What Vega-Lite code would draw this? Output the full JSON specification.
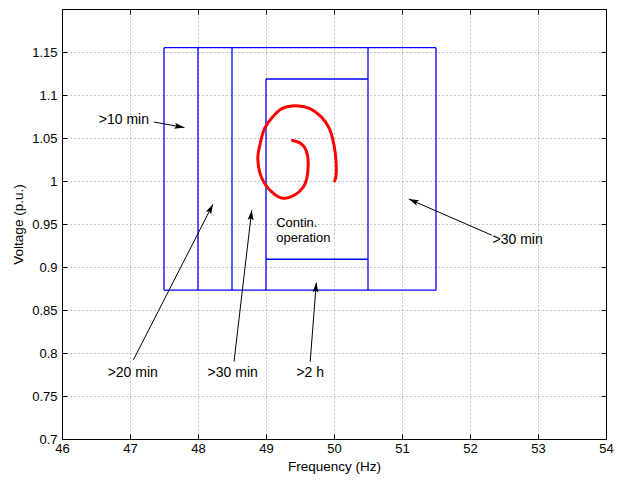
{
  "$schema": "https://vega.github.io/schema/vega-lite/v6.json",
  "width": 544,
  "height": 430,
  "autosize": {"type": "none"},
  "padding": {"left": 62, "top": 9, "right": 11, "bottom": 41},
  "background": "white",
  "config": {
    "font": "Liberation Sans",
    "view": {"stroke": "black", "strokeWidth": 1},
    "axis": {
      "domainColor": "black",
      "tickColor": "black",
      "labelColor": "black",
      "titleColor": "black",
      "labelFont": "Liberation Sans",
      "titleFont": "Liberation Sans",
      "labelFontSize": 13,
      "titleFontSize": 13.5,
      "titleFontWeight": "normal",
      "gridColor": "#888888",
      "gridDash": [1, 3],
      "gridOpacity": 1,
      "gridWidth": 1
    }
  },
  "datasets": {
    "segs": [
      {"x": 47.5, "y": 0.873, "x2": 51.5, "y2": 0.873},
      {"x": 47.5, "y": 1.155, "x2": 51.5, "y2": 1.155},
      {"x": 47.5, "y": 0.873, "x2": 47.5, "y2": 1.155},
      {"x": 51.5, "y": 0.873, "x2": 51.5, "y2": 1.155},
      {"x": 48.0, "y": 0.873, "x2": 48.0, "y2": 1.155},
      {"x": 48.5, "y": 0.873, "x2": 48.5, "y2": 1.155},
      {"x": 50.5, "y": 0.873, "x2": 50.5, "y2": 1.155},
      {"x": 49.0, "y": 0.873, "x2": 49.0, "y2": 1.1186},
      {"x": 49.0, "y": 1.1186, "x2": 50.5, "y2": 1.1186},
      {"x": 49.0, "y": 0.909, "x2": 50.5, "y2": 0.909}
    ],
    "spiral": [
      {"i": 1, "f": 49.39, "v": 1.047},
      {"i": 2, "f": 49.49, "v": 1.0446},
      {"i": 3, "f": 49.56, "v": 1.040},
      {"i": 4, "f": 49.61, "v": 1.030},
      {"i": 5, "f": 49.62, "v": 1.0166},
      {"i": 6, "f": 49.60, "v": 1.003},
      {"i": 7, "f": 49.55, "v": 0.993},
      {"i": 8, "f": 49.42, "v": 0.9837},
      {"i": 9, "f": 49.25, "v": 0.9799},
      {"i": 10, "f": 49.08, "v": 0.9876},
      {"i": 11, "f": 48.93, "v": 1.005},
      {"i": 12, "f": 48.88, "v": 1.0264},
      {"i": 13, "f": 48.91, "v": 1.0419},
      {"i": 14, "f": 48.98, "v": 1.0613},
      {"i": 15, "f": 49.10, "v": 1.0748},
      {"i": 16, "f": 49.24, "v": 1.0845},
      {"i": 17, "f": 49.44, "v": 1.0876},
      {"i": 18, "f": 49.64, "v": 1.0845},
      {"i": 19, "f": 49.81, "v": 1.0748},
      {"i": 20, "f": 49.93, "v": 1.0613},
      {"i": 21, "f": 50.0, "v": 1.0419},
      {"i": 22, "f": 50.03, "v": 1.0224},
      {"i": 23, "f": 50.03, "v": 1.007},
      {"i": 24, "f": 50.01, "v": 1.0}
    ],
    "arrows": [
      {"x": 47.35, "y": 1.0686, "x2": 47.80, "y2": 1.0622},
      {"x": 47.05, "y": 0.792, "x2": 48.22, "y2": 0.973},
      {"x": 48.53, "y": 0.790, "x2": 48.79, "y2": 0.966},
      {"x": 49.65, "y": 0.790, "x2": 49.74, "y2": 0.882},
      {"x": 52.32, "y": 0.937, "x2": 51.10, "y2": 0.979}
    ],
    "labels": [
      {"t": ">10 min", "x": 46.91, "y": 1.071},
      {"t": ">20 min", "x": 47.04, "y": 0.7767},
      {"t": ">30 min", "x": 48.51, "y": 0.7767},
      {"t": ">2 h", "x": 49.65, "y": 0.7767},
      {"t": ">30 min", "x": 52.70, "y": 0.9314}
    ],
    "labelsLeft": [
      {"t": "Contin.", "x": 49.15, "y": 0.9512},
      {"t": "operation", "x": 49.15, "y": 0.9340}
    ]
  },
  "resolve": {"axis": {"x": "independent", "y": "independent"}},
  "layer": [
    {
      "data": {"name": "segs"},
      "mark": {"type": "rule", "color": "#0000ff", "strokeWidth": 1.3},
      "encoding": {
        "x": {
          "field": "x", "type": "quantitative",
          "scale": {"domain": [46, 54], "nice": false, "zero": false},
          "axis": {
            "title": "Frequency (Hz)", "values": [46, 47, 48, 49, 50, 51, 52, 53, 54],
            "grid": true, "tickSize": -5, "labelPadding": 8, "titlePadding": 4,
            "labelFlush": false, "labelOverlap": false, "format": "d"
          }
        },
        "y": {
          "field": "y", "type": "quantitative",
          "scale": {"domain": [0.7, 1.2], "nice": false, "zero": false},
          "axis": {
            "title": "Voltage (p.u.)",
            "values": [0.7, 0.75, 0.8, 0.85, 0.9, 0.95, 1, 1.05, 1.1, 1.15],
            "grid": true, "tickSize": -5, "labelPadding": 10, "titlePadding": 6,
            "labelFlush": false, "labelOverlap": false, "format": "~g"
          }
        },
        "x2": {"field": "x2"},
        "y2": {"field": "y2"}
      }
    },
    {
      "data": {"name": "spiral"},
      "mark": {"type": "line", "color": "#ff0000", "strokeWidth": 3, "interpolate": "catmull-rom", "strokeCap": "round"},
      "encoding": {
        "x": {
          "field": "f", "type": "quantitative",
          "axis": {"orient": "top", "labels": false, "title": null, "grid": false, "tickSize": -5,
                   "values": [46, 47, 48, 49, 50, 51, 52, 53, 54], "domainColor": "black"}
        },
        "y": {
          "field": "v", "type": "quantitative",
          "axis": {"orient": "right", "labels": false, "title": null, "grid": false, "tickSize": -5,
                   "values": [0.7, 0.75, 0.8, 0.85, 0.9, 0.95, 1, 1.05, 1.1, 1.15]}
        },
        "order": {"field": "i", "type": "quantitative"}
      }
    },
    {
      "data": {"name": "arrows"},
      "mark": {"type": "rule", "color": "black", "strokeWidth": 1},
      "encoding": {
        "x": {"field": "x", "type": "quantitative", "axis": null},
        "y": {"field": "y", "type": "quantitative", "axis": null},
        "x2": {"field": "x2"},
        "y2": {"field": "y2"}
      }
    },
    {
      "data": {"name": "arrows"},
      "transform": [
        {"calculate": "atan2((datum.x2 - datum.x) * 68, (datum.y2 - datum.y) * 860) * 180 / PI", "as": "ang"}
      ],
      "mark": {"type": "point", "filled": true, "color": "black", "opacity": 1, "size": 100, "strokeWidth": 0,
               "shape": "M0,0 L0.6,2 L0,1.6 L-0.6,2 Z"},
      "encoding": {
        "x": {"field": "x2", "type": "quantitative", "axis": null},
        "y": {"field": "y2", "type": "quantitative", "axis": null},
        "angle": {"field": "ang", "type": "quantitative", "scale": null}
      }
    },
    {
      "data": {"name": "labels"},
      "mark": {"type": "text", "font": "Liberation Sans", "fontSize": 14, "align": "center", "baseline": "middle", "color": "black"},
      "encoding": {
        "x": {"field": "x", "type": "quantitative", "axis": null},
        "y": {"field": "y", "type": "quantitative", "axis": null},
        "text": {"field": "t"}
      }
    },
    {
      "data": {"name": "labelsLeft"},
      "mark": {"type": "text", "font": "Liberation Sans", "fontSize": 13, "align": "left", "baseline": "middle", "color": "black"},
      "encoding": {
        "x": {"field": "x", "type": "quantitative", "axis": null},
        "y": {"field": "y", "type": "quantitative", "axis": null},
        "text": {"field": "t"}
      }
    }
  ]
}
